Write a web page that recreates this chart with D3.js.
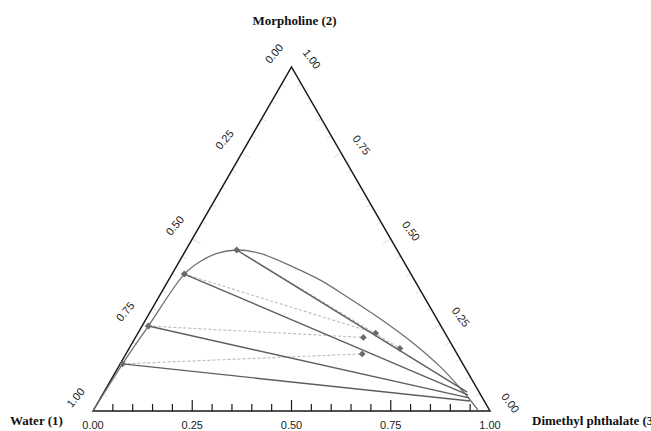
<!DOCTYPE html>
<html>
<head>
<meta charset="utf-8">
<script src="https://cdn.jsdelivr.net/npm/d3@7/dist/d3.min.js"></script>
<style>
  html, body { margin: 0; padding: 0; background: #fff; }
  svg { display: block; }
  .tick-label { font-family: "Liberation Sans", Arial, sans-serif; font-size: 11px; fill: #222; }
  .vertex-title { font-family: "Liberation Serif", "Times New Roman", serif; font-size: 13px; font-weight: bold; fill: #111; }
</style>
</head>
<body>
<svg id="chart" width="651" height="431"></svg>
<script>
// Component names at the three corners
const vertexNames = ["Water (1)", "Morpholine (2)", "Dimethyl phthalate (3)"];

// Axis ticks along each side (mole fraction)
const axisTickValues = [0, 0.25, 0.5, 0.75, 1];
const axisTickLabels = ["0.00", "0.25", "0.50", "0.75", "1.00"];

// Binodal curve: mole fractions of water (x1), morpholine (x2), dimethyl phthalate (x3)
const binodalX1 = [1.000, 0.857, 0.737, 0.571, 0.514, 0.459, 0.404, 0.350, 0.287, 0.238, 0.195, 0.143, 0.095, 0.061, 0.042, 0.034, 0.029];
const binodalX2 = [0.000, 0.137, 0.247, 0.398, 0.434, 0.458, 0.468, 0.458, 0.419, 0.381, 0.333, 0.269, 0.198, 0.129, 0.067, 0.032, 0.003];
const binodalX3 = [0.000, 0.006, 0.016, 0.031, 0.052, 0.083, 0.128, 0.192, 0.294, 0.381, 0.472, 0.588, 0.707, 0.810, 0.891, 0.934, 0.968];

// Experimental tie lines: water-rich phase (left end) and ester-rich phase (right end)
const tieLeftX1 = [0.404, 0.571, 0.737, 0.857];
const tieLeftX2 = [0.468, 0.398, 0.247, 0.137];
const tieLeftX3 = [0.128, 0.031, 0.016, 0.006];
const tieRightX1 = [0.030, 0.032, 0.034, 0.036];
const tieRightX2 = [0.055, 0.047, 0.038, 0.029];
const tieRightX3 = [0.915, 0.921, 0.928, 0.935];

// Calculated ester-rich phase compositions (dashed tie lines from the same left ends)
const calcRightX1 = [0.136, 0.175, 0.212, 0.239];
const calcRightX2 = [0.182, 0.226, 0.214, 0.166];
const calcRightX3 = [0.682, 0.599, 0.574, 0.595];

const svg = d3.select("#chart");
const SQ = Math.sqrt(3) / 2;

// Cartesian placement of the triangle
const xScale = d3.scaleLinear().domain([0, 1]).range([93, 490]);
const yScale = d3.scaleLinear().domain([0, SQ]).range([411, 67]);

// Project composition (x1, x2, x3) onto the plane
function proj(x1, x2, x3) {
  const s = x1 + x2 + x3;
  const b = x2 / s, c = x3 / s;
  return [xScale(c + b / 2), yScale(b * SQ)];
}

const cWater = proj(1, 0, 0), cMorph = proj(0, 1, 0), cDmp = proj(0, 0, 1);

// Faint ticks on left (water) and right (morpholine) sides, black ticks along the base
const minorTicks = xScale.ticks(20).filter(v => v > 0 && v < 1);
const isMajor = v => axisTickValues.some(t => Math.abs(t - v) < 1e-9);

const tickG = svg.append("g");
minorTicks.forEach(v => {
  const len = isMajor(v) ? 9 : 5;
  // left side: water fraction v
  const pl = proj(v, 1 - v, 0);
  tickG.append("line")
    .attr("x1", pl[0]).attr("y1", pl[1])
    .attr("x2", pl[0] + len * SQ).attr("y2", pl[1] + len * 0.5)
    .attr("stroke", "#dcdcdc").attr("stroke-width", 1);
  // right side: morpholine fraction v
  const pr = proj(0, v, 1 - v);
  tickG.append("line")
    .attr("x1", pr[0]).attr("y1", pr[1])
    .attr("x2", pr[0] - len * SQ).attr("y2", pr[1] + len * 0.5)
    .attr("stroke", "#dcdcdc").attr("stroke-width", 1);
  // base: dimethyl phthalate fraction v
  const pb = proj(1 - v, 0, v);
  const blen = isMajor(v) ? 11 : 7;
  tickG.append("line")
    .attr("x1", pb[0]).attr("y1", pb[1])
    .attr("x2", pb[0]).attr("y2", pb[1] - blen)
    .attr("stroke", "#1a1a1a").attr("stroke-width", 1.2);
});

// Triangle frame
svg.append("path")
  .attr("d", d3.line()([cWater, cMorph, cDmp]) + "Z")
  .attr("fill", "none")
  .attr("stroke", "#1a1a1a")
  .attr("stroke-width", 1.5)
  .attr("stroke-linejoin", "miter");

// Calculated tie lines (light dashed)
const calcG = svg.append("g");
tieLeftX1.forEach((_, i) => {
  const a = proj(tieLeftX1[i], tieLeftX2[i], tieLeftX3[i]);
  const b = proj(calcRightX1[i], calcRightX2[i], calcRightX3[i]);
  calcG.append("line")
    .attr("x1", a[0]).attr("y1", a[1]).attr("x2", b[0]).attr("y2", b[1])
    .attr("stroke", "#bdbdbd").attr("stroke-width", 1.1)
    .attr("stroke-dasharray", "3,2");
});

// Binodal curve
const binodalPts = binodalX1.map((_, i) => proj(binodalX1[i], binodalX2[i], binodalX3[i]));
svg.append("path")
  .attr("d", d3.line().curve(d3.curveCatmullRom.alpha(0.5))(binodalPts))
  .attr("fill", "none")
  .attr("stroke", "#707070")
  .attr("stroke-width", 1.3);

// Experimental tie lines (solid)
const tieG = svg.append("g");
tieLeftX1.forEach((_, i) => {
  const a = proj(tieLeftX1[i], tieLeftX2[i], tieLeftX3[i]);
  const b = proj(tieRightX1[i], tieRightX2[i], tieRightX3[i]);
  tieG.append("line")
    .attr("x1", a[0]).attr("y1", a[1]).attr("x2", b[0]).attr("y2", b[1])
    .attr("stroke", "#5e5e5e").attr("stroke-width", 1.4);
});

// Markers at left ends and calculated right ends (small rotated squares)
const marker = d3.symbol().type(d3.symbolSquare).size(24);
const markG = svg.append("g").attr("fill", "#6a6a6a");
tieLeftX1.forEach((_, i) => {
  const a = proj(tieLeftX1[i], tieLeftX2[i], tieLeftX3[i]);
  markG.append("path").attr("d", marker).attr("transform", `translate(${a[0]},${a[1]}) rotate(45)`);
  const b = proj(calcRightX1[i], calcRightX2[i], calcRightX3[i]);
  markG.append("path").attr("d", marker).attr("transform", `translate(${b[0]},${b[1]}) rotate(45)`);
});

// Tick labels
const labG = svg.append("g");
axisTickValues.forEach((v, i) => {
  // base: dimethyl phthalate
  const pb = proj(1 - v, 0, v);
  labG.append("text").attr("class", "tick-label")
    .attr("x", pb[0]).attr("y", pb[1] + 18)
    .attr("text-anchor", "middle")
    .text(axisTickLabels[i]);
  // left side: water
  const pl = proj(v, 1 - v, 0);
  const lx = pl[0] - 17.5, ly = pl[1] - 13.5;
  labG.append("text").attr("class", "tick-label")
    .attr("x", 0).attr("y", 0)
    .attr("text-anchor", "middle").attr("dominant-baseline", "central")
    .attr("transform", `translate(${lx},${ly}) rotate(-50)`)
    .text(axisTickLabels[i]);
  // right side: morpholine
  const pr = proj(0, v, 1 - v);
  const rx = pr[0] + 20.5, ry = pr[1] - 8;
  labG.append("text").attr("class", "tick-label")
    .attr("x", 0).attr("y", 0)
    .attr("text-anchor", "middle").attr("dominant-baseline", "central")
    .attr("transform", `translate(${rx},${ry}) rotate(53)`)
    .text(axisTickLabels[i]);
});

// Vertex titles
svg.append("text").attr("class", "vertex-title")
  .attr("x", 10).attr("y", 425).text(vertexNames[0]);
svg.append("text").attr("class", "vertex-title")
  .attr("x", cMorph[0] + 3).attr("y", 25).attr("text-anchor", "middle").text(vertexNames[1]);
svg.append("text").attr("class", "vertex-title")
  .attr("x", 532).attr("y", 425).text(vertexNames[2]);
</script>
</body>
</html>
